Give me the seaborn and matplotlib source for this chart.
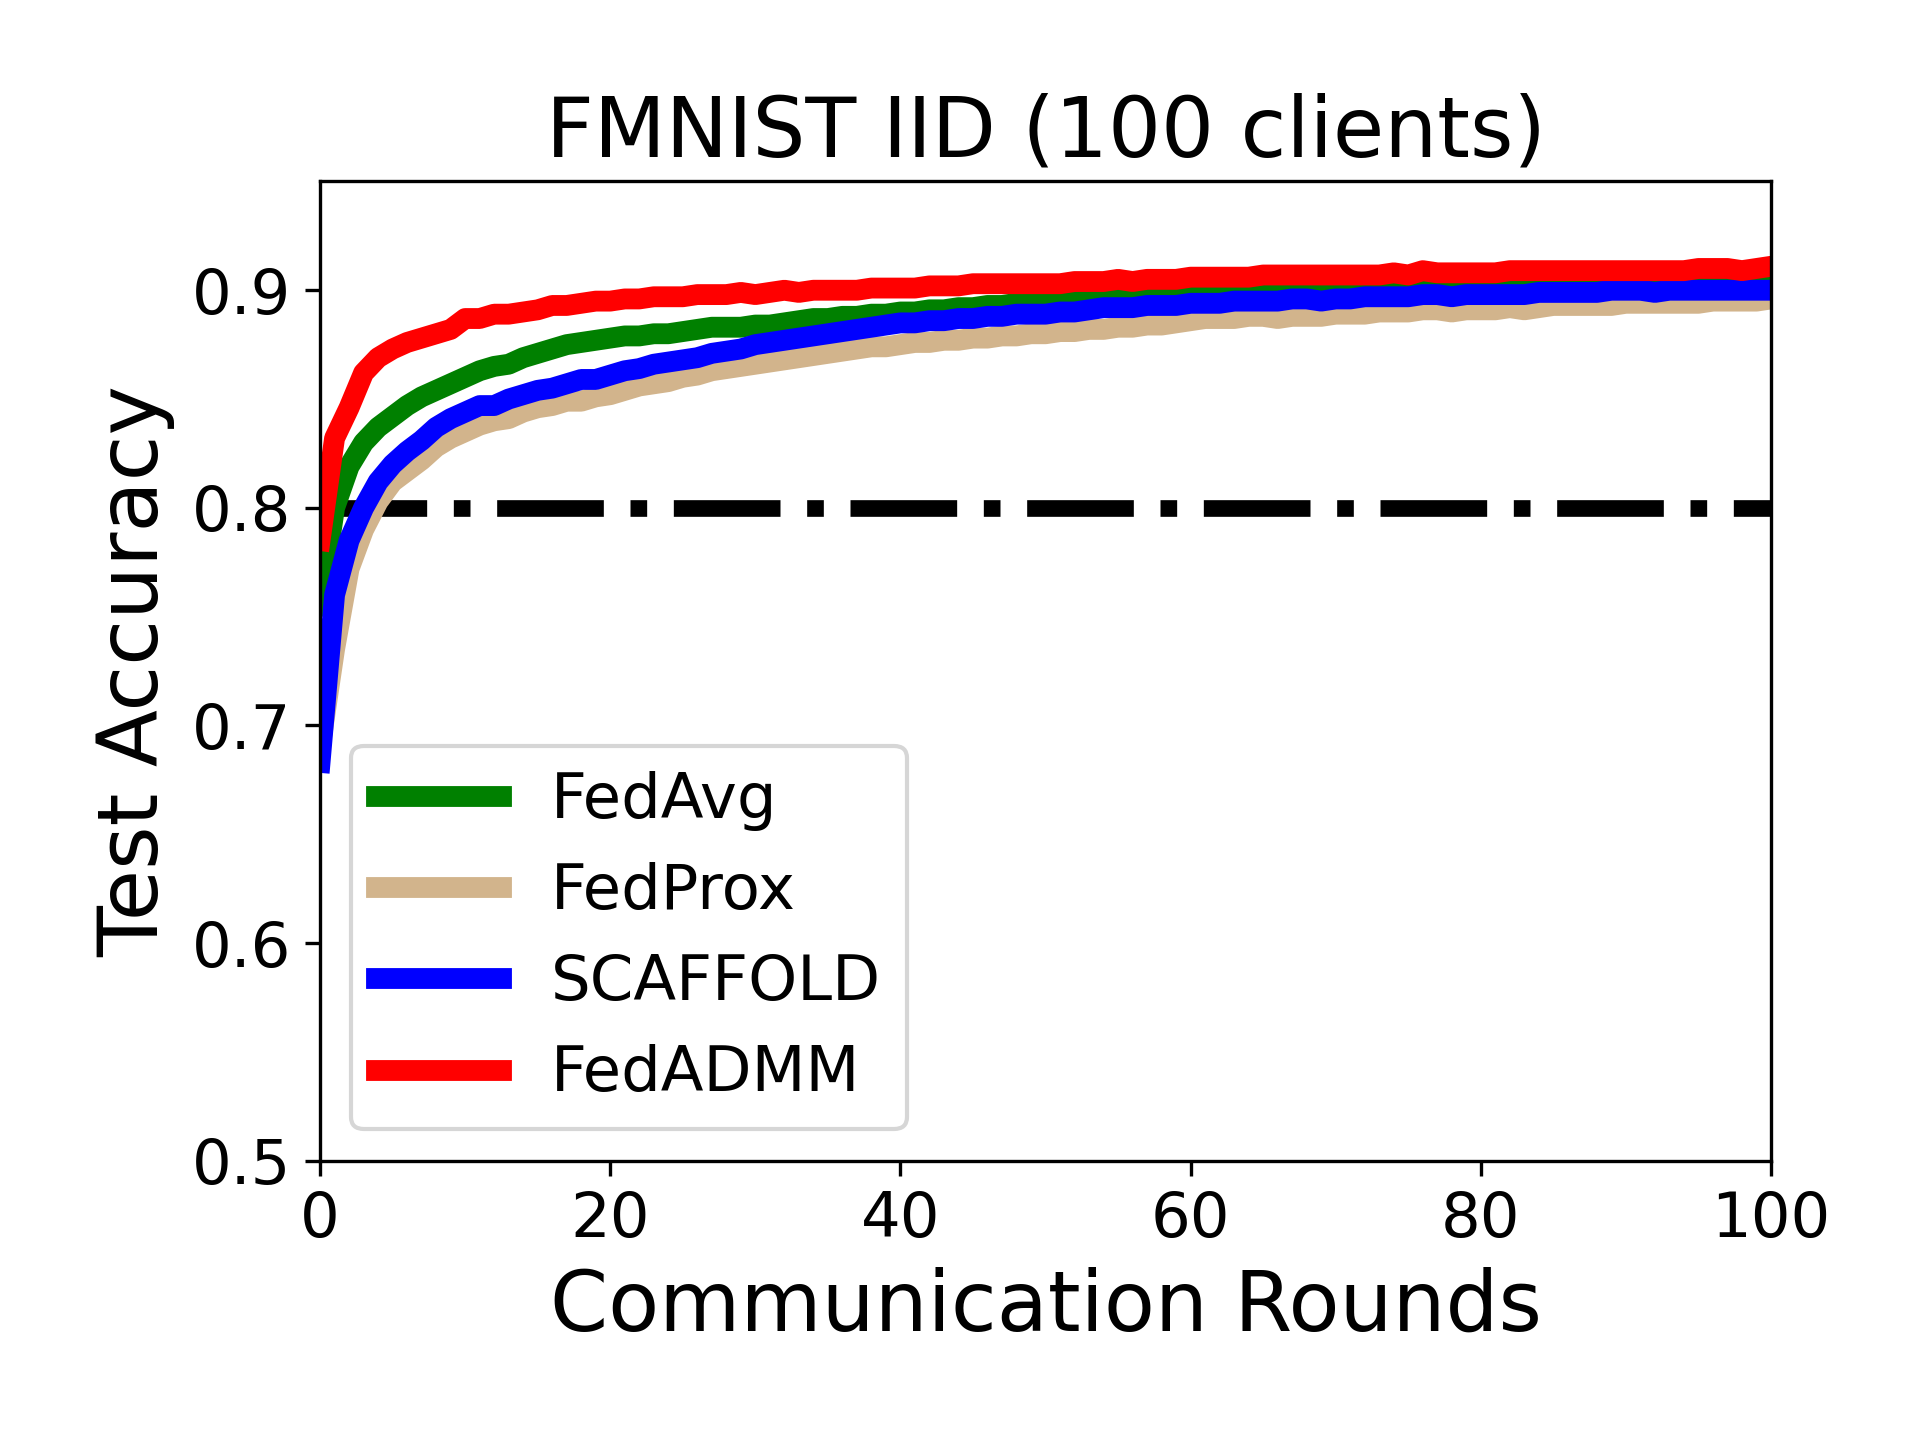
import numpy as np
import pandas as pd
import seaborn as sns
import matplotlib
matplotlib.use("Agg")
import matplotlib.pyplot as plt

# 数据：每轮测试精度
rounds = list(range(0, 101))

fedavg = [0.755, 0.800, 0.819, 0.830, 0.837, 0.842, 0.847, 0.851, 0.854, 0.857,
          0.860, 0.863, 0.865, 0.866, 0.869, 0.871, 0.873, 0.875, 0.876, 0.877,
          0.878, 0.879, 0.879, 0.880, 0.880, 0.881, 0.882, 0.883, 0.883, 0.883,
          0.884, 0.884, 0.885, 0.886, 0.887, 0.887, 0.888, 0.888, 0.889, 0.889,
          0.890, 0.890, 0.891, 0.891, 0.892, 0.892, 0.893, 0.893, 0.894, 0.894,
          0.895, 0.895, 0.895, 0.896, 0.896, 0.897, 0.897, 0.897, 0.898, 0.898,
          0.899, 0.900, 0.900, 0.900, 0.901, 0.901, 0.901, 0.901, 0.902, 0.902,
          0.902, 0.902, 0.902, 0.903, 0.903, 0.903, 0.903, 0.903, 0.903, 0.904,
          0.903, 0.904, 0.904, 0.904, 0.904, 0.904, 0.904, 0.904, 0.904, 0.904,
          0.904, 0.904, 0.904, 0.904, 0.904, 0.904, 0.904, 0.904, 0.904, 0.904,
          0.904]

fedprox = [0.690, 0.735, 0.772, 0.790, 0.803, 0.812, 0.817, 0.822, 0.828, 0.832,
           0.835, 0.838, 0.840, 0.841, 0.844, 0.846, 0.847, 0.849, 0.849, 0.851,
           0.852, 0.854, 0.856, 0.857, 0.858, 0.860, 0.861, 0.863, 0.864, 0.865,
           0.866, 0.867, 0.868, 0.869, 0.870, 0.871, 0.872, 0.873, 0.874, 0.874,
           0.875, 0.876, 0.876, 0.877, 0.877, 0.878, 0.878, 0.879, 0.879, 0.880,
           0.880, 0.881, 0.881, 0.882, 0.882, 0.883, 0.883, 0.884, 0.884, 0.885,
           0.886, 0.887, 0.887, 0.887, 0.888, 0.888, 0.887, 0.888, 0.888, 0.888,
           0.889, 0.889, 0.889, 0.890, 0.890, 0.890, 0.891, 0.891, 0.890, 0.891,
           0.891, 0.891, 0.892, 0.891, 0.892, 0.893, 0.893, 0.893, 0.893, 0.893,
           0.894, 0.894, 0.894, 0.894, 0.894, 0.894, 0.895, 0.895, 0.895, 0.895,
           0.896]

scaffold = [0.683, 0.760, 0.785, 0.800, 0.812, 0.820, 0.826, 0.831, 0.837, 0.841,
            0.844, 0.847, 0.847, 0.850, 0.852, 0.854, 0.855, 0.857, 0.859, 0.859,
            0.861, 0.863, 0.864, 0.866, 0.867, 0.868, 0.869, 0.871, 0.872, 0.873,
            0.875, 0.876, 0.877, 0.878, 0.879, 0.880, 0.881, 0.882, 0.883, 0.884,
            0.885, 0.885, 0.886, 0.886, 0.887, 0.887, 0.888, 0.888, 0.889, 0.889,
            0.889, 0.890, 0.890, 0.891, 0.892, 0.892, 0.892, 0.893, 0.893, 0.893,
            0.894, 0.894, 0.894, 0.895, 0.895, 0.895, 0.895, 0.896, 0.896, 0.895,
            0.896, 0.896, 0.897, 0.897, 0.897, 0.897, 0.898, 0.898, 0.897, 0.898,
            0.898, 0.898, 0.898, 0.898, 0.899, 0.899, 0.899, 0.899, 0.899, 0.900,
            0.900, 0.900, 0.899, 0.900, 0.900, 0.900, 0.900, 0.900, 0.900, 0.900,
            0.900]

fedadmm = [0.785, 0.832, 0.846, 0.862, 0.869, 0.873, 0.876, 0.878, 0.880, 0.882,
           0.887, 0.887, 0.889, 0.889, 0.890, 0.891, 0.893, 0.893, 0.894, 0.895,
           0.895, 0.896, 0.896, 0.897, 0.897, 0.897, 0.898, 0.898, 0.898, 0.899,
           0.898, 0.899, 0.900, 0.899, 0.900, 0.900, 0.900, 0.900, 0.901, 0.901,
           0.901, 0.901, 0.902, 0.902, 0.902, 0.903, 0.903, 0.903, 0.903, 0.903,
           0.903, 0.903, 0.904, 0.904, 0.904, 0.905, 0.904, 0.905, 0.905, 0.905,
           0.906, 0.906, 0.906, 0.906, 0.906, 0.907, 0.907, 0.907, 0.907, 0.907,
           0.907, 0.907, 0.907, 0.907, 0.908, 0.907, 0.909, 0.908, 0.908, 0.908,
           0.908, 0.908, 0.909, 0.909, 0.909, 0.909, 0.909, 0.909, 0.909, 0.909,
           0.909, 0.909, 0.909, 0.909, 0.909, 0.910, 0.910, 0.910, 0.909, 0.910,
           0.911]

methods = ["FedAvg", "FedProx", "SCAFFOLD", "FedADMM"]
colors = ["green", "tan", "blue", "red"]
target_acc = 0.8

fig, ax = plt.subplots(figsize=(6.4, 4.8), dpi=300)

# 目标精度虚线，放在曲线下面
ax.axhline(target_acc, color="black", linestyle="-.", linewidth=4, zorder=1)

for name, vals, c in zip(methods, [fedavg, fedprox, scaffold, fedadmm], colors):
    sns.lineplot(x=rounds, y=vals, color=c, linewidth=5, label=name, ax=ax, zorder=2)

ax.set_xlim(0, 100)
ax.set_ylim(0.5, 0.95)
ax.set_xticks([0, 20, 40, 60, 80, 100])
ax.set_yticks([0.5, 0.6, 0.7, 0.8, 0.9])
ax.tick_params(axis="both", labelsize=15)
ax.set_xlabel("Communication Rounds", fontsize=20)
ax.set_ylabel("Test Accuracy", fontsize=20)
ax.set_title("FMNIST IID (100 clients)", fontsize=20)
ax.legend(loc="lower left", fontsize=15)

plt.subplots_adjust(left=0.1667, right=0.9224, top=0.874, bottom=0.194)
plt.savefig("out.png", dpi=300)
